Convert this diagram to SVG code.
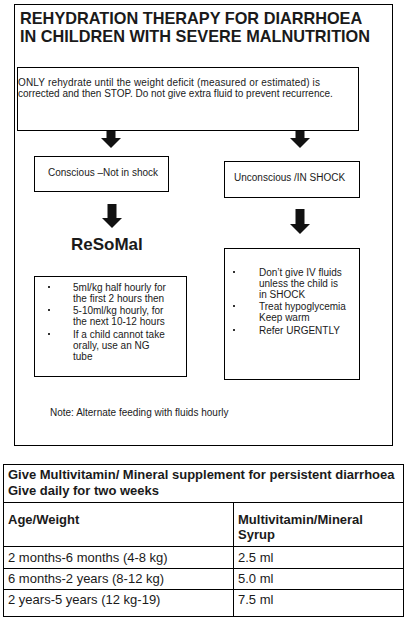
<svg xmlns="http://www.w3.org/2000/svg" width="408" height="620" viewBox="0 0 408 620">
<defs>
<style>
.box{fill:#fff;stroke:#000;stroke-width:1}
.t{font-family:"Liberation Sans",Arial,sans-serif;font-size:10px;fill:#1a1a1a}
.tb{font-family:"Liberation Sans",Arial,sans-serif;font-weight:bold;fill:#1a1a1a}
.tt{font-family:"Liberation Sans",Arial,sans-serif;font-size:13px;fill:#1a1a1a}
.sh{stroke:#111;stroke-width:9;fill:none}
.bul{fill:#333}
.gl{stroke:#000;stroke-width:1;fill:none}
</style>
<marker id="ah" viewBox="0 0 10 20" markerUnits="userSpaceOnUse" markerWidth="10" markerHeight="20" refX="0" refY="10" orient="auto">
<path d="M0,0 L10,10 L0,20 z" fill="#111"/>
</marker>
</defs>
<rect width="408" height="620" fill="#fff"/>

<g id="frame">
<rect class="box" x="14.5" y="4.5" width="378" height="441"/>
<text class="tb" font-size="16.3" x="20" y="24">REHYDRATION THERAPY FOR DIARRHOEA</text>
<text class="tb" font-size="16.3" x="20" y="41.5">IN CHILDREN WITH SEVERE MALNUTRITION</text>
</g>

<g id="only-box">
<rect class="box" x="17.5" y="67.5" width="341" height="63"/>
<text class="t" x="18" y="86" textLength="302" lengthAdjust="spacing">ONLY rehydrate until the weight deficit (measured or estimated) is</text>
<text class="t" x="18" y="97">corrected and then STOP. Do not give extra fluid to prevent recurrence.</text>
</g>

<g id="conscious">
<rect class="box" x="34.5" y="156.5" width="134" height="35"/>
<text class="t" x="48" y="176">Conscious –Not in shock</text>
</g>

<g id="unconscious">
<rect class="box" x="224.5" y="161.5" width="135" height="36"/>
<text class="t" x="234" y="181">Unconscious /IN SHOCK</text>
</g>

<g id="resomal">
<text class="tb" font-size="17" x="71" y="250">ReSoMal</text>
</g>

<g id="resomal-steps">
<rect class="box" x="34.5" y="276.5" width="152" height="100"/>
<rect class="bul" x="48" y="286" width="2" height="2"/>
<text class="t" x="73" y="291">5ml/kg half hourly for</text>
<text class="t" x="73" y="302">the first 2 hours then</text>
<rect class="bul" x="48" y="309" width="2" height="2"/>
<text class="t" x="73" y="314">5-10ml/kg hourly, for</text>
<text class="t" x="73" y="325">the next 10-12 hours</text>
<rect class="bul" x="48" y="333" width="2" height="2"/>
<text class="t" x="73" y="338">If a child cannot take</text>
<text class="t" x="73" y="349">orally, use an NG</text>
<text class="t" x="73" y="360">tube</text>
</g>

<g id="shock-steps">
<rect class="box" x="224.5" y="248.5" width="135" height="131"/>
<rect class="bul" x="233" y="271" width="2" height="2"/>
<text class="t" x="259" y="276">Don’t give IV fluids</text>
<text class="t" x="259" y="287">unless the child is</text>
<text class="t" x="259" y="298">in SHOCK</text>
<rect class="bul" x="233" y="305" width="2" height="2"/>
<text class="t" x="259" y="310">Treat hypoglycemia</text>
<text class="t" x="259" y="321">Keep warm</text>
<rect class="bul" x="233" y="329" width="2" height="2"/>
<text class="t" x="259" y="334">Refer URGENTLY</text>
</g>

<g id="note">
<text class="t" x="50" y="416">Note: Alternate feeding with fluids hourly</text>
</g>

<g id="connectors">
<line class="sh" x1="111" y1="131" x2="111" y2="138" marker-end="url(#ah)"/>
<line class="sh" x1="300" y1="131" x2="300" y2="138" marker-end="url(#ah)"/>
<line class="sh" x1="112" y1="204" x2="112" y2="218" marker-end="url(#ah)"/>
<line class="sh" x1="300" y1="209" x2="300" y2="224" marker-end="url(#ah)"/>
</g>

<g id="supplement-table">
<rect class="box" x="3.5" y="464.5" width="400" height="152"/>
<line class="gl" x1="3.5" y1="502.5" x2="403.5" y2="502.5"/>
<line class="gl" x1="3.5" y1="546.5" x2="403.5" y2="546.5"/>
<line class="gl" x1="3.5" y1="568.5" x2="403.5" y2="568.5"/>
<line class="gl" x1="3.5" y1="589.5" x2="403.5" y2="589.5"/>
<line class="gl" x1="233.5" y1="502.5" x2="233.5" y2="616.5"/>
<text class="tb" font-size="13" x="8" y="479">Give Multivitamin/ Mineral supplement for persistent diarrhoea</text>
<text class="tb" font-size="13" x="8" y="495">Give daily for two weeks</text>
<text class="tb" font-size="13" x="8" y="524">Age/Weight</text>
<text class="tb" font-size="13" x="238" y="524">Multivitamin/Mineral</text>
<text class="tb" font-size="13" x="238" y="539">Syrup</text>
<text class="tt" x="8" y="562">2 months-6 months (4-8 kg)</text>
<text class="tt" x="238" y="562">2.5 ml</text>
<text class="tt" x="8" y="583">6 months-2 years (8-12 kg)</text>
<text class="tt" x="238" y="583">5.0 ml</text>
<text class="tt" x="8" y="604">2 years-5 years (12 kg-19)</text>
<text class="tt" x="238" y="604">7.5 ml</text>
</g>
</svg>
